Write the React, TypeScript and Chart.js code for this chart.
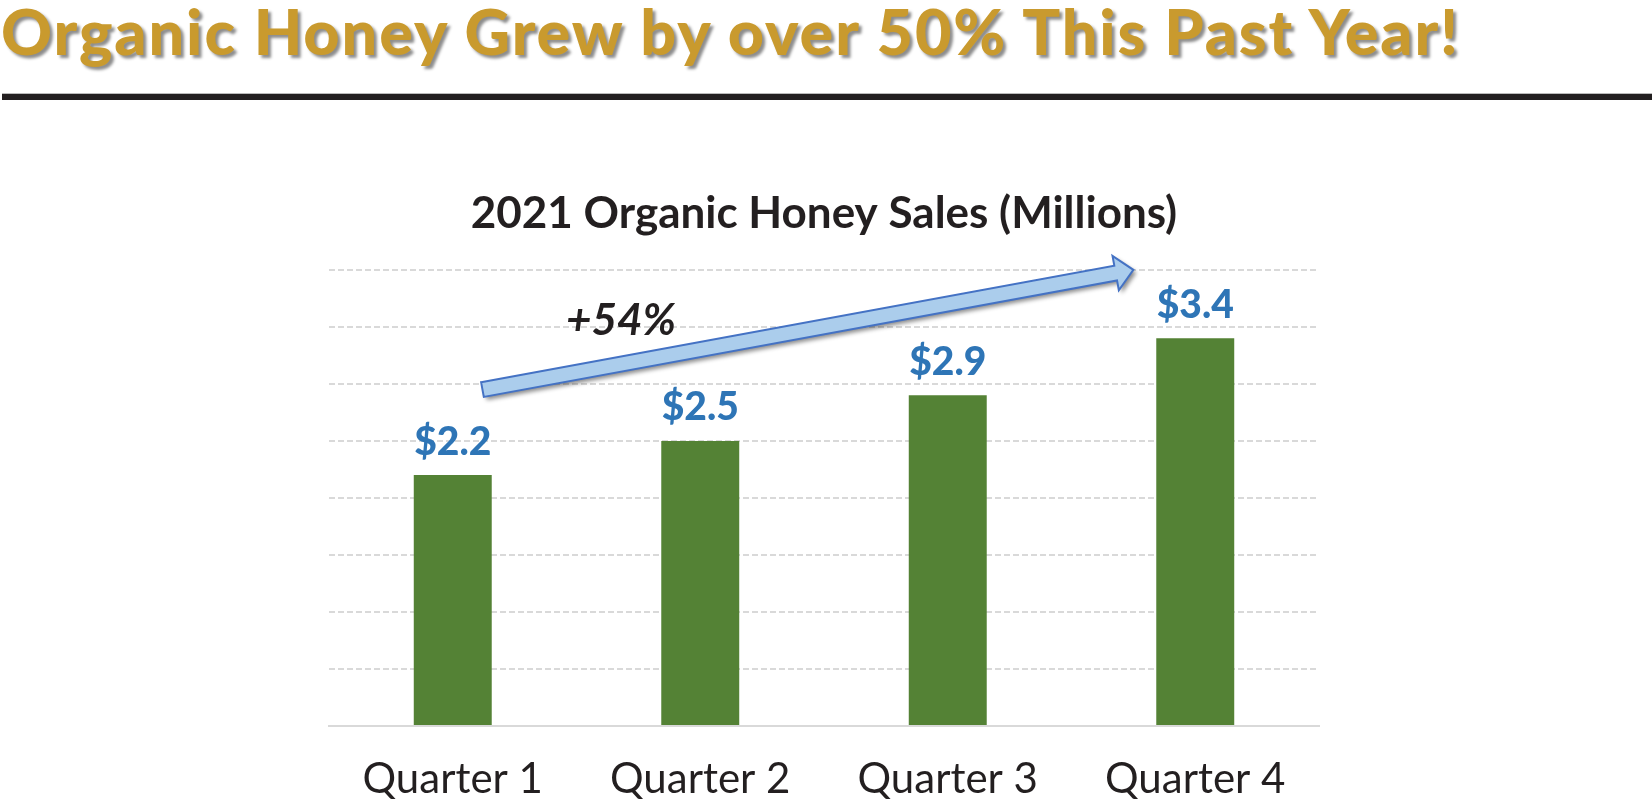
import React, { useEffect, useRef } from "react";
import { Chart, registerables } from "chart.js";

Chart.register(...registerables);

// ---- data ----
const pageTitle = "Organic Honey Grew by over 50% This Past Year!";
const chartTitle = "2021 Organic Honey Sales (Millions)";
const categories = ["Quarter 1", "Quarter 2", "Quarter 3", "Quarter 4"];
const sales = [2.2, 2.5, 2.9, 3.4];
const yMin = 0;
const yMax = 4;
const yStep = 0.5;
const growthLabel = "+54%";
// annotation anchors in data space: [category index, value]
const arrowFrom = [0.12, 2.95];
const arrowTo = [2.75, 4.0];
const growthLabelAt = [0.68, 3.55];

const FONT = "Lato, 'Noto Sans', sans-serif";

const valueLabels = {
  id: "valueLabels",
  afterDatasetsDraw(chart: any) {
    const ctx = chart.ctx;
    const meta = chart.getDatasetMeta(0);
    ctx.save();
    ctx.font = `900 39px ${FONT}`;
    ctx.fillStyle = "#2E75B6";
    ctx.textAlign = "center";
    ctx.textBaseline = "middle";
    meta.data.forEach((bar: any, i: number) => {
      ctx.fillText("$" + sales[i].toFixed(1), bar.x, bar.y - 33);
    });
    ctx.restore();
  },
};

const growthArrow = {
  id: "growthArrow",
  afterDraw(chart: any) {
    const { ctx } = chart;
    const xs = chart.scales.x;
    const ys = chart.scales.y;
    const x0 = xs.getPixelForValue(arrowFrom[0]);
    const y0 = ys.getPixelForValue(arrowFrom[1]);
    const x1 = xs.getPixelForValue(arrowTo[0]);
    const y1 = ys.getPixelForValue(arrowTo[1]);
    const L = Math.hypot(x1 - x0, y1 - y0);
    const ang = Math.atan2(y1 - y0, x1 - x0);
    const hw = 7.5;
    const HW = 17.5;
    const hl = 18;
    ctx.save();
    ctx.translate(x0, y0);
    ctx.rotate(ang);
    ctx.beginPath();
    ctx.moveTo(0, -hw);
    ctx.lineTo(L - hl, -hw);
    ctx.lineTo(L - hl, -HW);
    ctx.lineTo(L, 0);
    ctx.lineTo(L - hl, HW);
    ctx.lineTo(L - hl, hw);
    ctx.lineTo(0, hw);
    ctx.closePath();
    ctx.save();
    ctx.shadowColor = "rgba(0,0,0,0.45)";
    ctx.shadowBlur = 4;
    ctx.shadowOffsetX = 3;
    ctx.shadowOffsetY = 3;
    ctx.fillStyle = "#ABCDEC";
    ctx.fill();
    ctx.restore();
    ctx.lineWidth = 2;
    ctx.lineJoin = "miter";
    ctx.strokeStyle = "#4472C4";
    ctx.stroke();
    ctx.restore();

    ctx.save();
    ctx.font = `italic bold 44px ${FONT}`;
    ctx.fillStyle = "#231F20";
    ctx.textAlign = "center";
    ctx.textBaseline = "middle";
    ctx.fillText(
      growthLabel,
      xs.getPixelForValue(growthLabelAt[0]),
      ys.getPixelForValue(growthLabelAt[1])
    );
    ctx.restore();
  },
};

function SalesChart() {
  const ref = useRef<HTMLCanvasElement | null>(null);
  useEffect(() => {
    if (!ref.current) return;
    const chart = new Chart(ref.current, {
      type: "bar",
      data: {
        labels: categories,
        datasets: [
          {
            data: sales,
            backgroundColor: "#548235",
            barPercentage: 0.315,
            categoryPercentage: 1,
          },
        ],
      },
      options: {
        responsive: false,
        animation: false,
        layout: { padding: { left: 329, right: 333, top: 0, bottom: 0 } },
        plugins: {
          legend: { display: false },
          tooltip: { enabled: false },
          title: {
            display: true,
            text: chartTitle,
            color: "#231F20",
            font: { family: FONT, size: 44, weight: "bold" },
            padding: { top: 187, bottom: 30 },
          },
        },
        scales: {
          x: {
            grid: { display: false, drawTicks: false },
            border: { display: true, color: "#D9D9D9", width: 2 },
            ticks: {
              color: "#231F20",
              font: { family: FONT, size: 42 },
              padding: 28,
            },
            afterFit: (s: any) => {
              s.height = 79;
            },
          },
          y: {
            min: yMin,
            max: yMax,
            ticks: { display: false, stepSize: yStep },
            grid: { color: "#D9D9D9", lineWidth: 2, drawTicks: false },
            border: { display: false, dash: [6, 3] },
            afterFit: (s: any) => {
              s.width = 0;
            },
          },
        },
      },
      plugins: [valueLabels, growthArrow],
    } as any);
    return () => chart.destroy();
  }, []);
  return (
    <canvas
      ref={ref}
      width={1652}
      height={805}
      style={{ position: "absolute", left: 0, top: 0 }}
    />
  );
}

export default function App() {
  return (
    <div
      style={{
        position: "fixed",
        left: 0,
        top: 0,
        width: 1652,
        height: 805,
        background: "#ffffff",
        overflow: "hidden",
      }}
    >
      <SalesChart />
      <div
        style={{
          position: "absolute",
          left: 1,
          top: -1,
          font: `900 63px ${FONT}`,
          lineHeight: "63px",
          letterSpacing: "1.9px",
          color: "#C99A2E",
          textShadow: "3px 3px 3px rgba(0,0,0,0.45)",
          whiteSpace: "nowrap",
        }}
      >
        {pageTitle}
      </div>
      <div
        style={{
          position: "absolute",
          left: 2,
          top: 94,
          width: 1650,
          height: 6,
          background: "#231F20",
          boxShadow: "0 -1px 0 #BBBBBB",
        }}
      />
    </div>
  );
}
